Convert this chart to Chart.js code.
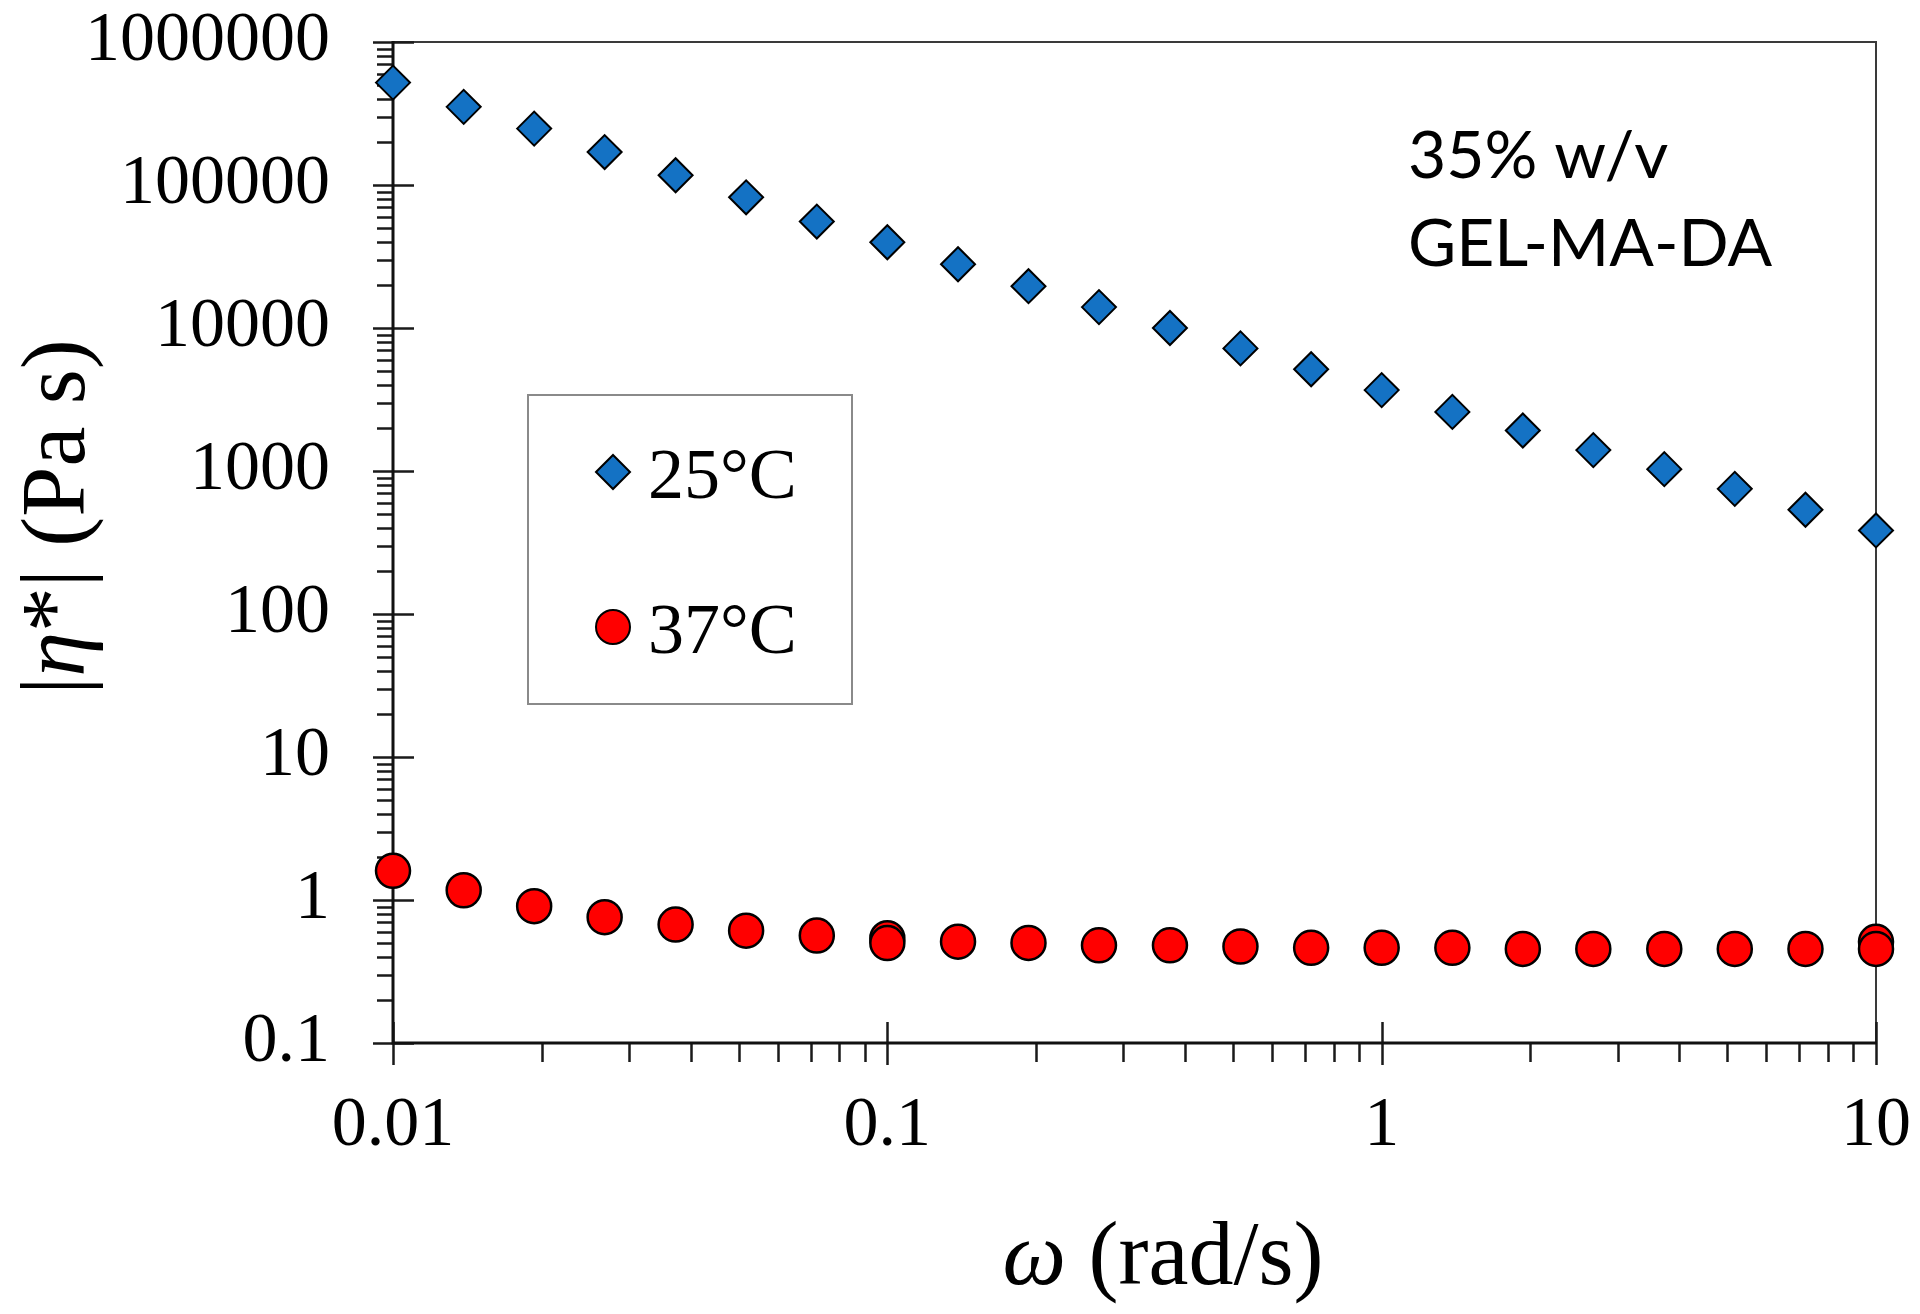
<!DOCTYPE html>
<html><head><meta charset="utf-8">
<script src="https://cdn.jsdelivr.net/npm/chart.js@4.4.1/dist/chart.umd.min.js"></script>
<style>html,body{margin:0;padding:0;background:#fff;}canvas{display:block;}</style>
</head><body>
<canvas id="c" width="1920" height="1314"></canvas>
<script>
// ---- data ----
const omega25 = [0.01, 0.0139, 0.0193, 0.0268, 0.0373, 0.0518, 0.072, 0.1, 0.139, 0.193, 0.268, 0.373, 0.518, 0.72, 1, 1.39, 1.93, 2.68, 3.73, 5.18, 7.2, 10];
const eta25 = [520000, 352000, 248000, 170000, 117000, 82000, 55500, 39800, 27900, 19600, 14000, 10000, 7200, 5150, 3680, 2590, 1920, 1400, 1030, 750, 536, 384];
const omega37 = [0.01, 0.0139, 0.0193, 0.0268, 0.0373, 0.0518, 0.072, 0.1, 0.1, 0.139, 0.193, 0.268, 0.373, 0.518, 0.72, 1, 1.39, 1.93, 2.68, 3.73, 5.18, 7.2, 10, 10];
const eta37 = [1.6, 1.17, 0.905, 0.758, 0.673, 0.61, 0.564, 0.54, 0.50, 0.511, 0.501, 0.482, 0.482, 0.473, 0.463, 0.463, 0.463, 0.455, 0.455, 0.455, 0.455, 0.455, 0.51, 0.455];
const seriesLabels = ['25°C', '37°C'];
const xTickValues = [0.01, 0.1, 1, 10];
const xTickLabels = ['0.01', '0.1', '1', '10'];
const yTickValues = [0.1, 1, 10, 100, 1000, 10000, 100000, 1000000];
const yTickLabels = ['0.1', '1', '10', '100', '1000', '10000', '100000', '1000000'];
const annotationLines = ['35% w/v', 'GEL-MA-DA'];
const xTitleParts = [['ω', true], [' (rad/s)', false]];
const yTitleParts = [['|', false], ['η', true], ['*', false], ['|', false], [' (Pa s)', false]];

const SERIF = '"Liberation Serif","Times New Roman",serif';
const BLUE = '#1472C4';
const RED = '#FF0000';

function decadeTicks(min, max) {
  const out = [];
  const d0 = Math.floor(Math.log10(min)), d1 = Math.ceil(Math.log10(max));
  for (let d = d0; d <= d1; d++) {
    for (let m = 1; m <= 9; m++) {
      const v = Number((m * Math.pow(10, d)).toPrecision(6));
      if (v >= min * 0.9999 && v <= max * 1.0001) out.push({v, major: m === 1});
    }
  }
  return out;
}

const framePlugin = {
  id: 'frame',
  beforeDatasetsDraw(chart) {
    const ctx = chart.ctx;
    const {left, right, top, bottom} = chart.chartArea;
    const xs = chart.scales.x, ys = chart.scales.y;
    ctx.save();
    ctx.lineCap = 'butt';
    ctx.strokeStyle = '#3a3a3a';
    ctx.lineWidth = 2;
    ctx.beginPath();
    ctx.moveTo(left, top); ctx.lineTo(right, top); ctx.lineTo(right, bottom);
    ctx.stroke();
    ctx.strokeStyle = '#1a1a1a';
    ctx.lineWidth = 2.5;
    ctx.beginPath();
    for (const t of decadeTicks(ys.min, ys.max)) {
      const py = Math.round(ys.getPixelForValue(t.v)) + 0.5;
      if (t.major) { ctx.moveTo(left - 20, py); ctx.lineTo(left + 21, py); }
      else { ctx.moveTo(left - 16, py); ctx.lineTo(left, py); }
    }
    for (const t of decadeTicks(xs.min, xs.max)) {
      const px = Math.round(xs.getPixelForValue(t.v)) + 0.5;
      if (t.major) { ctx.moveTo(px, bottom - 21); ctx.lineTo(px, bottom + 22); }
      else { ctx.moveTo(px, bottom); ctx.lineTo(px, bottom + 19); }
    }
    ctx.stroke();
    ctx.lineWidth = 3;
    ctx.strokeStyle = '#111';
    ctx.beginPath();
    ctx.moveTo(left, top - 1); ctx.lineTo(left, bottom); ctx.lineTo(right + 1, bottom);
    ctx.stroke();
    ctx.restore();
  },
  afterDraw(chart) {
    const ctx = chart.ctx;
    ctx.save();
    ctx.fillStyle = '#000';
    ctx.textBaseline = 'alphabetic';
    ctx.font = '66px Lato, "Open Sans", sans-serif';
    ctx.textAlign = 'left';
    ctx.fillText(annotationLines[0], 1408, 178);
    ctx.fillText(annotationLines[1], 1408, 266);
    ctx.strokeStyle = '#8a8a8a';
    ctx.lineWidth = 2;
    ctx.strokeRect(528, 395, 324, 309);
    const ds = chart.data.datasets;
    const rows = [472, 627];
    ds.forEach((d, i) => {
      ctx.fillStyle = d.backgroundColor;
      ctx.strokeStyle = d.borderColor;
      Chart.helpers.drawPoint(ctx, {pointStyle: d.pointStyle, radius: d.pointRadius, rotation: 0, borderWidth: d.borderWidth}, 613, rows[i]);
      ctx.fillStyle = '#000';
      ctx.font = '72px ' + SERIF;
      ctx.fillText(d.label, 648, rows[i] + 26);
    });
    const drawParts = (parts, size) => {
      let total = 0;
      const widths = parts.map(p => { ctx.font = (p[1] ? 'italic ' : '') + size + 'px ' + SERIF; const w = ctx.measureText(p[0]).width; total += w; return w; });
      let x = -total / 2;
      parts.forEach((p, i) => { ctx.font = (p[1] ? 'italic ' : '') + size + 'px ' + SERIF; ctx.textAlign = 'left'; ctx.fillText(p[0], x, 0); x += widths[i]; });
    };
    ctx.fillStyle = '#000';
    ctx.save();
    ctx.translate(1163, 1284);
    drawParts(xTitleParts, 90);
    ctx.restore();
    ctx.save();
    ctx.translate(84, 517);
    ctx.rotate(-Math.PI / 2);
    drawParts(yTitleParts, 90);
    ctx.restore();
    ctx.restore();
  }
};

const toPts = (xs, ys) => xs.map((x, i) => ({x, y: ys[i]}));
const hiddenGrid = (len) => ({display: true, drawOnChartArea: false, drawTicks: true, tickLength: len, color: 'rgba(0,0,0,0)', tickColor: 'rgba(0,0,0,0)'});

new Chart(document.getElementById('c'), {
  type: 'scatter',
  data: {
    datasets: [
      {label: seriesLabels[0], data: toPts(omega25, eta25), pointStyle: 'rectRot', pointRadius: 17, pointHoverRadius: 17,
       backgroundColor: BLUE, borderColor: '#000', borderWidth: 2, clip: false},
      {label: seriesLabels[1], data: toPts(omega37, eta37), pointStyle: 'circle', pointRadius: 17, pointHoverRadius: 17,
       backgroundColor: RED, borderColor: '#000', borderWidth: 2.5, clip: false}
    ]
  },
  options: {
    responsive: false,
    animation: false,
    devicePixelRatio: 1,
    layout: {padding: {left: 0, right: 44, top: 42, bottom: 0}},
    plugins: {legend: {display: false}, tooltip: {enabled: false}},
    events: [],
    scales: {
      x: {
        type: 'logarithmic', position: 'bottom', min: 0.01, max: 10,
        afterBuildTicks: s => { s.ticks = xTickValues.map(v => ({value: v, major: true})); },
        afterFit: s => { s.height = 1314 - 1043; },
        grid: hiddenGrid(42), border: {display: false},
        ticks: {color: '#000', padding: 0, maxRotation: 0, autoSkip: false,
          font: {family: SERIF, size: 70, lineHeight: 1.2},
          callback: v => xTickLabels[xTickValues.indexOf(v)]}
      },
      y: {
        type: 'logarithmic', position: 'left', min: 0.1, max: 1000000,
        afterBuildTicks: s => { s.ticks = yTickValues.map(v => ({value: v, major: true})); },
        afterFit: s => { s.width = 393; },
        grid: hiddenGrid(63), border: {display: false},
        ticks: {color: '#000', padding: 0, autoSkip: false,
          font: {family: SERIF, size: 70, lineHeight: 1.2},
          callback: v => yTickLabels[yTickValues.indexOf(v)]}
      }
    }
  },
  plugins: [framePlugin]
});
</script>
</body></html>
